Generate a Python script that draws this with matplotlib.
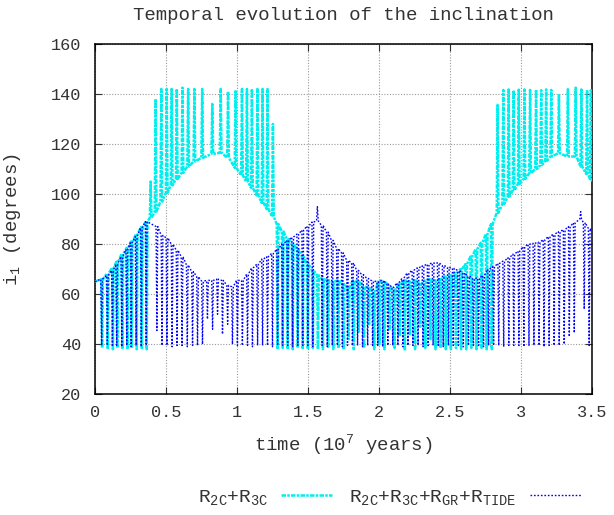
import matplotlib
matplotlib.use("Agg")
import matplotlib.pyplot as plt

plt.rcParams['font.family'] = ['Liberation Mono', 'DejaVu Sans Mono']
plt.rcParams['mathtext.fontset'] = 'custom'
plt.rcParams['mathtext.rm'] = 'Liberation Mono'
plt.rcParams['mathtext.default'] = 'rm'

# Cycle-by-cycle description of each run: time of each excursion,
# the inclination between excursions, and the excursion extreme (degrees).
r23_t = [0.050, 0.090, 0.126, 0.157, 0.193, 0.228, 0.259, 0.294, 0.330, 0.364,
         0.392,
         0.427, 0.467, 0.505, 0.540, 0.576, 0.616, 0.656, 0.700, 0.755, 0.826,
         0.885, 0.937, 0.990, 1.035, 1.070, 1.105, 1.144, 1.180, 1.215, 1.253,
         1.286, 1.322, 1.357, 1.392, 1.428, 1.463, 1.499, 1.534, 1.570, 1.605,
         1.642, 1.678, 1.714, 1.750, 1.786, 1.822, 1.858, 1.894, 1.930, 1.966,
         2.002, 2.038, 2.074, 2.110, 2.146, 2.182, 2.218, 2.254, 2.290, 2.326,
         2.362, 2.398, 2.434, 2.470, 2.506, 2.542, 2.578, 2.614, 2.650, 2.686,
         2.722, 2.758, 2.794,
         2.835, 2.875, 2.913, 2.948, 2.984, 3.024, 3.064, 3.106, 3.142, 3.177,
         3.213, 3.267, 3.330, 3.385, 3.425, 3.465, 3.492]
r23_level = [66.0, 68.3, 70.5, 73.0, 76.0, 78.5, 81.0, 84.0, 86.8, 89.0,
             90.5,
             93.0, 97.0, 100.5, 103.5, 106.0, 108.5, 111.0, 113.0, 114.5, 116.0,
             116.5, 114.5, 110.5, 107.5, 105.0, 102.5, 99.5, 96.5, 94.0, 91.0,
             88.0, 85.0, 82.0, 80.0, 78.0, 75.0, 72.0, 69.5, 67.5, 66.0,
             65.5, 65.0, 65.5, 64.0, 62.5, 65.5, 65.0, 63.0, 62.5, 61.0,
             65.5, 65.0, 63.0, 62.0, 64.0, 65.5, 65.0, 65.5, 64.0, 65.5,
             66.0, 65.5, 66.0, 67.0, 67.5, 68.5, 70.0, 72.0, 75.0, 78.0,
             80.5, 84.0, 88.0,
             92.5, 96.0, 99.0, 101.5, 104.0, 106.0, 108.3, 110.0, 111.6, 113.3,
             115.0, 116.3, 115.0, 115.0, 111.0, 108.0, 106.0]
r23_extreme = [38.5, 38.0, 38.0, 38.5, 38.0, 38.0, 38.5, 38.0, 38.0, 38.0,
               105.0,
               138.0, 142.0, 142.0, 142.0, 142.0, 142.5, 142.0, 142.0, 142.0, 136.0,
               142.0, 141.0, 141.5, 142.0, 142.0, 142.0, 142.0, 142.0, 142.0, 128.0,
               38.0, 38.5, 38.0, 38.0, 38.5, 38.0, 38.0, 38.5, 38.0, 38.0,
               39.0, 38.0, 38.5, 38.0, 42.0, 38.0, 45.0, 38.5, 48.0, 38.0,
               40.0, 38.0, 46.0, 38.5, 43.0, 37.5, 44.0, 38.0, 47.0, 38.5,
               42.0, 38.0, 38.5, 38.0, 38.0, 38.5, 38.0, 38.0, 38.5, 38.0,
               38.5, 38.0, 38.0,
               135.6, 141.6, 141.8, 141.5, 141.7, 141.8, 141.6, 141.8, 141.5, 141.8,
               141.6, 139.5, 141.9, 142.5, 141.8, 141.6, 141.5]
r23_start, r23_end = 65.0, 105.0

full_t = [0.047, 0.087, 0.123, 0.153, 0.189, 0.224, 0.255, 0.290, 0.326, 0.361,
          0.436, 0.472, 0.507, 0.543, 0.578, 0.613, 0.650, 0.687, 0.722, 0.757,
          0.792, 0.828, 0.863, 0.898, 0.934, 0.968, 1.003, 1.038, 1.074, 1.109,
          1.145, 1.180, 1.215, 1.250, 1.286, 1.321, 1.357, 1.392, 1.428, 1.463,
          1.499, 1.534, 1.566, 1.600, 1.636, 1.671, 1.707, 1.742, 1.778, 1.813,
          1.849, 1.884, 1.920, 1.955, 1.991, 2.026, 2.062, 2.097, 2.133, 2.168,
          2.204, 2.239, 2.275, 2.310, 2.346, 2.381, 2.417, 2.452, 2.488, 2.523,
          2.559, 2.594, 2.630, 2.665, 2.701, 2.736, 2.772, 2.807, 2.843, 2.878,
          2.914, 2.949, 2.985, 3.020, 3.056, 3.091, 3.127, 3.162, 3.198, 3.233,
          3.269, 3.304, 3.340, 3.375, 3.420, 3.445, 3.480]
full_level = [66.0, 67.5, 69.5, 72.0, 75.0, 77.8, 80.5, 83.0, 86.5, 89.0,
              87.0, 83.5, 82.5, 80.0, 77.6, 75.0, 71.7, 69.0, 67.0, 65.2,
              65.5, 65.5, 66.0, 65.5, 63.5, 63.0, 65.5, 65.5, 68.0, 70.5,
              72.0, 74.0, 75.0, 76.3, 78.0, 80.0, 81.5, 82.8, 84.0, 85.6,
              87.2, 88.8, 89.3, 87.5, 84.8, 81.5, 78.3, 76.5, 73.5, 72.5,
              69.5, 67.8, 66.3, 65.3, 65.0, 65.5, 64.0, 62.8, 64.5, 66.3,
              68.5, 69.5, 70.5, 71.4, 72.0, 72.5, 72.5, 71.5, 70.7, 70.3,
              69.5, 68.5, 67.3, 66.3, 66.5, 67.5, 70.0, 71.0, 72.3, 73.2,
              74.6, 76.0, 77.2, 79.0, 80.0, 80.3, 80.8, 81.8, 83.0, 84.0,
              85.0, 85.8, 87.0, 88.5, 90.0, 88.6, 86.3]
full_extreme = [39.5, 39.5, 39.0, 39.5, 39.0, 39.5, 39.0, 39.5, 39.0, 39.5,
                45.5, 39.5, 39.5, 39.0, 39.5, 39.5, 39.0, 39.5, 39.5, 40.0,
                50.0, 46.0, 52.0, 44.0, 48.0, 40.0, 39.5, 39.5, 39.5, 39.0,
                39.5, 39.5, 39.5, 39.0, 39.5, 39.5, 39.5, 39.0, 39.5, 39.5,
                39.5, 39.0, 95.0, 39.5, 39.0, 39.5, 39.5, 39.0, 39.5, 39.5,
                39.5, 39.0, 39.5, 39.5, 39.5, 39.0, 39.5, 39.5, 39.5, 39.0,
                39.5, 39.5, 39.5, 39.0, 39.5, 39.5, 39.5, 39.0, 39.5, 39.5,
                39.5, 39.0, 39.5, 39.5, 39.5, 39.0, 39.5, 39.5, 39.5, 39.0,
                39.5, 39.5, 39.5, 39.0, 39.5, 39.5, 39.5, 39.0, 39.5, 39.5,
                39.5, 40.0, 43.0, 44.5, 93.0, 54.0, 39.5]
full_start, full_end = 65.0, 85.0

t_min, t_max = 0.0, 3.5
x_ticks = [0, 0.5, 1, 1.5, 2, 2.5, 3, 3.5]
x_ticklabels = ['0', '0.5', '1', '1.5', '2', '2.5', '3', '3.5']
y_ticks = [20, 40, 60, 80, 100, 120, 140, 160]

labels = [r'R$_\mathrm{2C}$+R$_\mathrm{3C}$',
          r'R$_\mathrm{2C}$+R$_\mathrm{3C}$+R$_\mathrm{GR}$+R$_\mathrm{TIDE}$']

text_color = '#333333'


def oscillation_path(times, levels, extremes, start, end, half_width=0.006):
    xs, ys = [t_min], [start]
    for t, lv, ex in zip(times, levels, extremes):
        xs += [t - half_width, t, t + half_width]
        ys += [lv, ex, lv]
    xs.append(t_max)
    ys.append(end)
    return xs, ys


fig = plt.figure(figsize=(6.14, 5.15), dpi=100)
ax = fig.add_axes([0.1547, 0.2344, 0.8095, 0.6804])

x1, y1 = oscillation_path(r23_t, r23_level, r23_extreme, r23_start, r23_end)
x2, y2 = oscillation_path(full_t, full_level, full_extreme, full_start, full_end)

ax.plot(x1, y1, color='#00eeee', lw=1.8, dashes=(1.8, 0.5, 1.0, 0.5),
        label=labels[0], zorder=3)
ax.plot(x2, y2, color='#0000ff', lw=1.0, dashes=(1.2, 1.3),
        label=labels[1], zorder=4)

ax.set_xlim(t_min, t_max)
ax.set_ylim(20, 160)
ax.set_xticks(x_ticks)
ax.set_xticklabels(x_ticklabels)
ax.set_yticks(y_ticks)
ax.grid(True, color='#9a9a9a', linestyle=(0, (1, 1.5)), linewidth=0.8)
ax.tick_params(axis='both', direction='in', top=True, right=True, length=5,
               width=0.8, labelsize=12.2, colors=text_color)
ax.tick_params(axis='y', pad=10)
ax.tick_params(axis='x', pad=8)
for s in ax.spines.values():
    s.set_linewidth(1.1)
    s.set_color('black')

ax.set_title('Temporal evolution of the inclination', fontsize=13.7,
             color=text_color, pad=17)
ax.set_xlabel(r'time (10$^7$ years)', fontsize=13.7, color=text_color, labelpad=9)
ax.set_ylabel(r'i$_1$ (degrees)', fontsize=13.7, color=text_color, labelpad=20)

fig.legend(loc='center', bbox_to_anchor=(0.634, 0.034), ncol=2, frameon=False,
           markerfirst=False, fontsize=14, handlelength=2.6, columnspacing=0.9,
           handletextpad=0.7, labelcolor=text_color)

fig.savefig('out.png', dpi=100)
